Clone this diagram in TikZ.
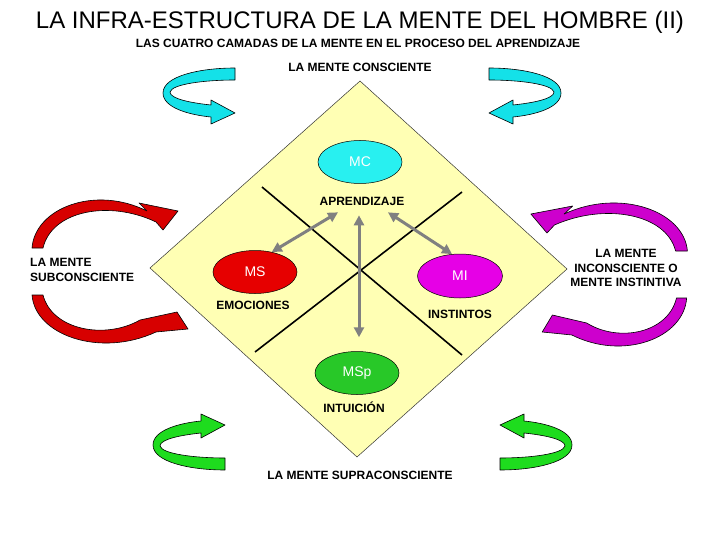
\documentclass[tikz,border=0pt]{standalone}
\usepackage{fontspec}
\setmainfont{Liberation Sans}
\usetikzlibrary{shapes.geometric,arrows.meta,calc}
\definecolor{diamondyellow}{RGB}{255,255,180}
\definecolor{mccyan}{RGB}{40,240,240}
\definecolor{msred}{RGB}{230,0,0}
\definecolor{mimag}{RGB}{230,0,230}
\definecolor{mspgreen}{RGB}{40,200,40}
\definecolor{midgray}{RGB}{128,128,128}
\definecolor{swcyan}{RGB}{20,225,232}
\definecolor{swred}{RGB}{215,0,0}
\definecolor{swmag}{RGB}{205,0,205}
\definecolor{swgreen}{RGB}{30,220,30}
\newcommand{\ribbonpath}{(235,68) .. controls (200,68) and (163,76) .. (163,93)
  .. controls (163,108) and (190,115) .. (211,117)
  -- (211,124) -- (235,113) -- (211,100) -- (211,105)
  .. controls (192,103) and (170,99) .. (170,92)
  .. controls (172,84) and (205,80) .. (235,80) -- cycle}
\newcommand{\archuppath}{(32,248) .. controls (35,208) and (95,185) .. (147,211)
  -- (139,203) -- (178,211) -- (163,230) -- (156,222)
  .. controls (110,200) and (52,210) .. (43,248) -- cycle}
\newcommand{\archdownpath}{(32,295) .. controls (35,335) and (100,358) .. (156,332)
  -- (188,329) -- (177,312) -- (140,320)
  .. controls (105,340) and (52,330) .. (43,295) -- cycle}
\begin{document}
\begin{tikzpicture}[x=1pt,y=-1pt,
  lbl/.style={font=\bfseries\fontsize{12}{14.5}\selectfont, inner sep=0pt},
  mind/.style={ellipse, draw=black, line width=0.5pt, minimum width=84pt,
    minimum height=43pt, text=white, font=\fontsize{14}{16}\selectfont, inner sep=0pt},
  garrow/.style={draw=midgray, line width=3pt,
    {Triangle[length=10pt,width=10pt]}-{Triangle[length=10pt,width=10pt]}},
  crossline/.style={draw=black, line width=1.6pt},
  swirl/.style={draw=black, line width=0.6pt, line join=round}]
\useasboundingbox (0,0) rectangle (720,540);
\fill[white] (0,0) rectangle (720,540);

% titles
\node[font=\fontsize{24}{28}\selectfont, inner sep=0pt, anchor=base] (title) at (360,29)
  {LA INFRA-ESTRUCTURA DE LA MENTE DEL HOMBRE (II)};
\node[lbl, anchor=base] (sub) at (358,48)
  {LAS CUATRO CAMADAS DE LA MENTE EN EL PROCESO DEL APRENDIZAJE};

% diamond
\filldraw[fill=diamondyellow, draw=black!80, line width=0.5pt]
  (360,81) -- (567,269) -- (357,457) -- (150,268) -- cycle;

% cross lines
\draw[crossline] (262,187) -- (462,355);
\draw[crossline] (462,192) -- (255,352);

% labels
\node[lbl, anchor=base] (consc) at (360,72) {LA MENTE CONSCIENTE};
\node[lbl, anchor=base] (apr) at (362,206) {APRENDIZAJE};
\node[lbl, anchor=base] (emo) at (253,309) {EMOCIONES};
\node[lbl, anchor=base] (inst) at (460,318) {INSTINTOS};
\node[lbl, anchor=base] (intu) at (354,412) {INTUICIÓN};
\node[lbl, anchor=base] (supra) at (360,479) {LA MENTE SUPRACONSCIENTE};
\node[lbl, anchor=north west, align=left] (subc) at (30,258.4)
  {LA MENTE\\SUBCONSCIENTE};
\node[lbl, anchor=north, align=center] (incon) at (626,249.4)
  {LA MENTE\\INCONSCIENTE O\\MENTE INSTINTIVA};

% minds
\node[mind, fill=mccyan] (MC) at (360,162) {MC};
\node[mind, fill=msred] (MS) at (255,272) {MS};
\node[mind, fill=mimag, minimum width=85pt, minimum height=44pt] (MI) at (460,276) {MI};
\node[mind, fill=mspgreen] (MSp) at (357,373) {MSp};

% gray connectors
\draw[garrow] ($(apr.south)+(-24,6)$) -- (MS.50);
\draw[garrow] ($(apr.south)+(26,6)$) -- (MI.110);
\draw[garrow] ($(apr.south)+(-3,9)$) -- ($(MSp.north)+(2,-14)$);

% cyan ribbons (top)
\filldraw[swirl, fill=swcyan] \ribbonpath;
\begin{scope}[xshift=724pt, xscale=-1]
  \filldraw[swirl, fill=swcyan] \ribbonpath;
\end{scope}
% green ribbons (bottom)
\begin{scope}[xshift=-10pt, yshift=-538pt, yscale=-1]
  \filldraw[swirl, fill=swgreen] \ribbonpath;
\end{scope}
\begin{scope}[xshift=735pt, yshift=-538pt, xscale=-1, yscale=-1]
  \filldraw[swirl, fill=swgreen] \ribbonpath;
\end{scope}
% red arcs (left)
\filldraw[swirl, fill=swred] \archuppath;
\filldraw[swirl, fill=swred] \archdownpath;
% magenta arcs (right)
\begin{scope}[xshift=721.7pt, yshift=-3pt, xscale=-1.072]
  \filldraw[swirl, fill=swmag] \archuppath;
\end{scope}
\begin{scope}[xshift=716.3pt, yshift=-3pt, xscale=-0.926]
  \filldraw[swirl, fill=swmag] \archdownpath;
\end{scope}
\end{tikzpicture}
\end{document}
